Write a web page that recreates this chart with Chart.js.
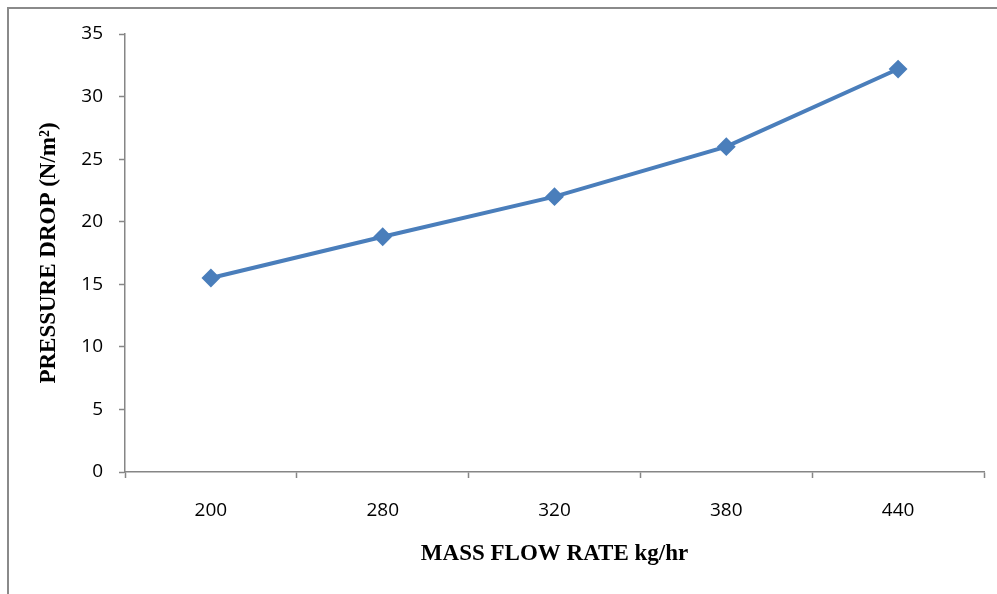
<!DOCTYPE html>
<html>
<head>
<meta charset="utf-8">
<script src="https://cdn.jsdelivr.net/npm/chart.js@4/dist/chart.umd.min.js"></script>
<style>
  html, body { margin: 0; padding: 0; background: #fff; }
  #wrap { position: relative; width: 997px; height: 594px; overflow: hidden; }
  #frame { position: absolute; left: 7px; top: 7px; width: 1100px; height: 700px; border: 2px solid #8a8a8a; box-sizing: border-box; }
  #myChart { position: absolute; left: 0; top: 0; }
</style>
</head>
<body>
<div id="wrap">
  <div id="frame"></div>
  <canvas id="myChart" width="997" height="594"></canvas>
</div>
<script>
// Datos del gráfico
const flujoMasa = ["200", "280", "320", "380", "440"];
const caidaPresion = [15.5, 18.8, 22.0, 26.0, 32.2];
const ejeY = { min: 0, max: 35, paso: 5 };

const chartDom = document.getElementById("myChart");
const colorLinea = "#4a7ebb";
const colorEje = "#868686";

const config = {
  type: "line",
  data: {
    labels: flujoMasa,
    datasets: [
      {
        label: "Pressure drop",
        data: caidaPresion,
        borderColor: colorLinea,
        backgroundColor: colorLinea,
        borderWidth: 4,
        pointStyle: "rectRot",
        pointRadius: 8,
        pointBorderWidth: 2,
        pointBorderColor: colorLinea,
        pointBackgroundColor: colorLinea,
        tension: 0,
      },
    ],
  },
  options: {
    responsive: false,
    animation: false,
    layout: { padding: { left: 35, top: 34, right: 13, bottom: 26 } },
    plugins: { legend: { display: false }, tooltip: { enabled: false } },
    scales: {
      x: {
        offset: true,
        grid: {
          offset: true,
          drawOnChartArea: false,
          drawTicks: true,
          tickLength: 6,
          tickColor: colorEje,
          tickWidth: 1.5,
        },
        border: { color: colorEje, width: 1.5 },
        ticks: {
          color: "#000",
          padding: 21,
          font: { family: "Open Sans", size: 19 },
        },
        title: {
          display: true,
          text: "MASS FLOW RATE kg/hr",
          color: "#000",
          padding: 0,
          font: { family: "Liberation Serif", size: 23, weight: "bold" },
        },
        afterFit: (scale) => {
          scale.height = 96;
        },
      },
      y: {
        min: ejeY.min,
        max: ejeY.max,
        grid: {
          drawOnChartArea: false,
          drawTicks: true,
          tickLength: 6,
          tickColor: colorEje,
          tickWidth: 1.5,
        },
        border: { color: colorEje, width: 1.5 },
        ticks: {
          stepSize: ejeY.paso,
          color: "#000",
          padding: 16,
          font: { family: "Open Sans", size: 19 },
        },
        title: {
          display: true,
          text: "PRESSURE DROP (N/m²)",
          color: "#000",
          padding: 0,
          font: { family: "Liberation Serif", size: 23, weight: "bold" },
        },
        afterFit: (scale) => {
          scale.width = 90;
        },
      },
    },
  },
};

const myChart = new Chart(chartDom, config);
</script>
</body>
</html>
